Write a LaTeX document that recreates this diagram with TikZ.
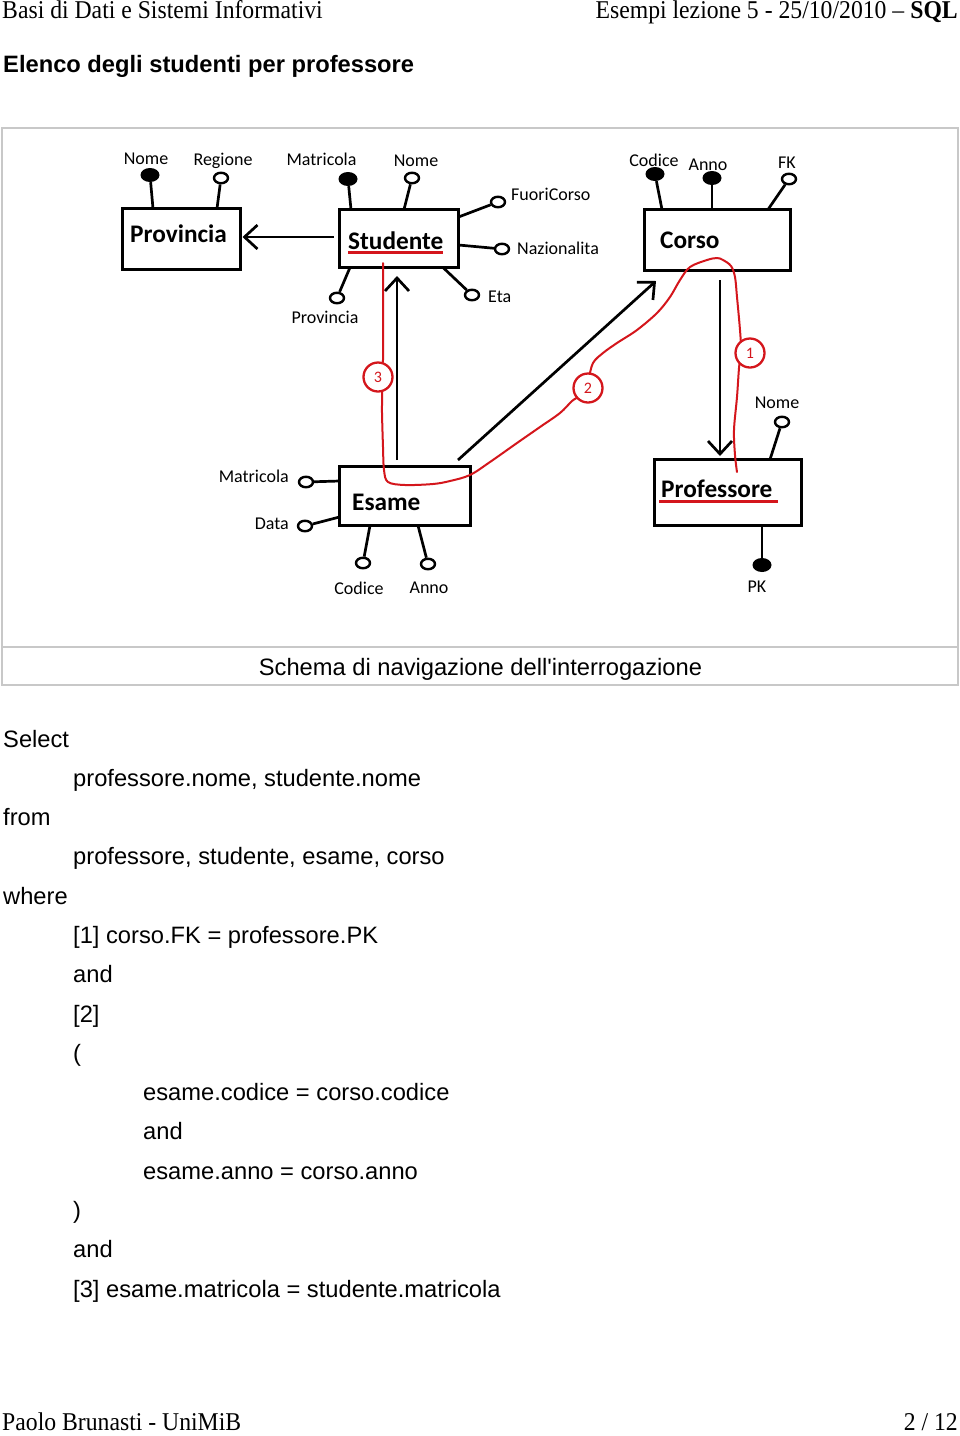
\documentclass[tikz,border=0pt]{standalone}
\usepackage{fontspec}
\setmainfont{Liberation Sans}
\newfontfamily\serifhead{Liberation Serif}
\newfontfamily\plainsans{Liberation Sans}
\newfontfamily\calib{Carlito}
\usetikzlibrary{arrows.meta,shapes.geometric}
\definecolor{annred}{RGB}{212,22,28}
\definecolor{framegray}{RGB}{200,200,200}
\begin{document}
\begin{tikzpicture}[x=1pt,y=-1pt,
  ent/.style={draw, line width=2.7pt, inner sep=0, outer sep=0},
  entname/.style={anchor=base west, inner sep=0, font=\calib\bfseries\fontsize{25.3}{30}\selectfont},
  attr/.style={inner sep=0, font=\calib\fontsize{18}{22}\selectfont},
  opn/.style={ellipse, draw, line width=2.4pt, minimum width=14pt, minimum height=10.5pt, inner sep=0, fill=white},
  fll/.style={ellipse, fill=black, minimum width=19pt, minimum height=14pt, inner sep=0},
  stem/.style={line width=2.7pt},
  rel/.style={line width=2.7pt, -{Straight Barb[length=13pt,width=24pt]}},
  num/.style={circle, draw=annred, line width=2.3pt, minimum size=29pt, inner sep=0, fill=white, text=annred, font=\calib\fontsize{16}{18}\selectfont},
  sqltxt/.style={anchor=base west, inner sep=0, font=\fontsize{23.7}{28}\selectfont},
  head/.style={inner sep=0, font=\serifhead\fontsize{23.7}{28}\selectfont}
]
\useasboundingbox (0,0) rectangle (960,1436);
\fill[white] (0,0) rectangle (960,1436);

% header
\node[head, anchor=base west] (hl) at (2,18) {\scalebox{1}[1.08]{Basi di Dati e Sistemi Informativi}};
\node[head, anchor=base east] (hr) at (958,18) {\scalebox{1}[1.08]{Esempi lezione 5 - 25/10/2010 – \textbf{SQL}}};
\node[anchor=base west, inner sep=0, font=\bfseries\fontsize{23.7}{28}\selectfont] (title) at (3,72) {Elenco degli studenti per professore};

% frame
\draw[framegray, line width=1.3pt] (2,128) rectangle (958,685);
\draw[framegray, line width=1.3pt] (2,647) -- (958,647);
\node[anchor=base, inner sep=0, font=\plainsans\fontsize{23.7}{28}\selectfont] (cap) at (480.5,675) {Schema di navigazione dell'interrogazione};

% entities
\node[ent, minimum width=118pt, minimum height=61pt] (prov) at (181.5,239) {};
\node[ent, minimum width=119pt, minimum height=58pt] (stud) at (399,238.5) {};
\node[ent, minimum width=146pt, minimum height=61pt] (corso) at (717.5,240) {};
\node[ent, minimum width=131pt, minimum height=59pt] (esame) at (405,496) {};
\node[ent, minimum width=147pt, minimum height=66pt] (prof) at (728,492.5) {};

\node[entname] (tprov) at (130,242) {Provincia};
\node[entname] (tstud) at (348,249) {Studente};
\node[entname] (tcorso) at (660,248) {Corso};
\node[entname] (tesame) at (352,510) {Esame};
\node[entname] (tprof) at (661,497) {Professore};
\draw[annred, line width=2.3pt] (tstud.base west) ++(0,3.5) -- ++(95,0);
\draw[annred, line width=2.3pt] (tprof.base west) ++(-2,4.5) -- ++(119,0);

% Provincia attributes
\node[fll] (pnome) at (150,175) {};
\node[opn] (preg) at (221,178) {};
\draw[stem] (pnome) -- ([xshift=30.5pt]prov.north west);
\draw[stem] (preg) -- ([xshift=94.5pt]prov.north west);
\node[attr] at (146,159) {Nome};
\node[attr] at (223,161) {Regione};

% Studente attributes
\node[fll] (smat) at (348,179) {};
\node[opn] (snome) at (412,178) {};
\node[opn] (sfc) at (498,202) {};
\node[opn] (snaz) at (502,249) {};
\node[opn] (seta) at (472,295) {};
\node[opn] (sprov) at (337,298) {};
\draw[stem] (smat) -- ([xshift=11.5pt]stud.north west);
\draw[stem] (snome) -- ([xshift=64.5pt]stud.north west);
\draw[stem] (sfc) -- ([yshift=-7.5pt]stud.north east);
\draw[stem] (snaz) -- ([yshift=-35.5pt]stud.north east);
\draw[stem] (seta) -- ([xshift=103.5pt]stud.south west);
\draw[stem] (sprov) -- ([xshift=10.5pt]stud.south west);
\node[attr] at (321.5,159) {Matricola};
\node[attr] at (416,161) {Nome};
\node[attr, anchor=west] at (511,194) {FuoriCorso};
\node[attr, anchor=west] at (517,248) {Nazionalita};
\node[attr, anchor=west] at (488,297) {Eta};
\node[attr] at (325,317) {Provincia};

% Corso attributes
\node[fll] (ccod) at (655,174) {};
\node[fll] (canno) at (712,178) {};
\node[opn] (cfk) at (789,179) {};
\draw[stem] (ccod) -- ([xshift=17.5pt]corso.north west);
\draw[stem] (canno) -- ([xshift=67.5pt]corso.north west);
\draw[stem] (cfk) -- ([xshift=123.5pt]corso.north west);
\node[attr] at (654,160) {Codice};
\node[attr] at (708,165) {Anno};
\node[attr] at (787,163) {FK};

% Professore attributes
\node[opn] (pfnome) at (782,422) {};
\node[fll] (pfpk) at (762,565) {};
\draw[stem] (pfnome) -- ([xshift=115.5pt]prof.north west);
\draw[stem] (pfpk) -- ([xshift=107.5pt]prof.south west);
\node[attr] at (777,403) {Nome};
\node[attr] at (757,587) {PK};

% Esame attributes
\node[opn] (emat) at (306,482) {};
\node[opn] (edata) at (305,526) {};
\node[opn] (ecod) at (363,563) {};
\node[opn] (eanno) at (428,564) {};
\draw[stem] (emat) -- ([yshift=-14.5pt]esame.north west);
\draw[stem] (edata) -- ([yshift=-50.5pt]esame.north west);
\draw[stem] (ecod) -- ([xshift=30.5pt]esame.south west);
\draw[stem] (eanno) -- ([xshift=78.5pt]esame.south west);
\node[attr, anchor=east] at (289,476) {Matricola};
\node[attr, anchor=east] at (289,524) {Data};
\node[attr] at (359,588) {Codice};
\node[attr] at (429,588) {Anno};

% relationships
\draw[rel] ([xshift=-6pt,yshift=1.5pt]stud.west) -- ([xshift=2pt,yshift=2pt]prov.east);
\draw[rel] ([xshift=57.5pt,yshift=6.5pt]esame.north west) -- ([xshift=57.5pt,yshift=-8.5pt]stud.south west);
\draw[rel] ([xshift=118.5pt,yshift=6.5pt]esame.north west) -- ([xshift=11.5pt,yshift=-10.5pt]corso.south west);
\draw[rel] ([xshift=75.5pt,yshift=-9.5pt]corso.south west) -- ([xshift=65.5pt,yshift=3.5pt]prof.north west);

% red navigation path
\draw[annred, line width=2pt, line join=round, line cap=round] plot[smooth, tension=0.55] coordinates {
 (737,472) (735,455) (734,430) (737,397) (739,368) (741,350) (740,330) (737,297) (735,277) (731,266) (723,260) (717,258) (707,260) (690,267) (680,280) (670,297) (657,313) (637,330) (617,343) (603,353) (593,363) (588,380) (580,395) (572,401) (560,413) (540,427) (517,443) (490,462) (470,475) (450,481) (433,484) (405,485) (388,482) (384,470) (383,447) (382,413) (382,392) (380,377) (383,360) (383,330) (383,300) (383,275) (383,263)};
\node[num] (n1) at (750,353) {1};
\node[num] (n2) at (588,388) {2};
\node[num] (n3) at (378,377) {3};

% SQL text
\node[sqltxt] (l1) at (3,747) {Select};
\node[sqltxt] (l2) at (73,786.3) {professore.nome, studente.nome};
\node[sqltxt] (l3) at (3,825.6) {from};
\node[sqltxt] (l4) at (73,864.9) {professore, studente, esame, corso};
\node[sqltxt] (l5) at (3,904.2) {where};
\node[sqltxt] (l6) at (73,943.5) {[1] corso.FK = professore.PK};
\node[sqltxt] (l7) at (73,982.7) {and};
\node[sqltxt] (l8) at (73,1022) {[2]};
\node[sqltxt] (l9) at (73,1061.3) {(};
\node[sqltxt] (l10) at (143,1100.6) {esame.codice = corso.codice};
\node[sqltxt] (l11) at (143,1139.9) {and};
\node[sqltxt] (l12) at (143,1179.2) {esame.anno = corso.anno};
\node[sqltxt] (l13) at (73,1218.5) {)};
\node[sqltxt] (l14) at (73,1257.8) {and};
\node[sqltxt] (l15) at (73,1297) {[3] esame.matricola = studente.matricola};

% footer
\node[head, anchor=base west] (fl) at (2,1430) {\scalebox{1}[1.08]{Paolo Brunasti - UniMiB}};
\node[head, anchor=base east] (fr) at (958,1430) {\scalebox{1}[1.08]{2 / 12}};
\end{tikzpicture}
\end{document}
